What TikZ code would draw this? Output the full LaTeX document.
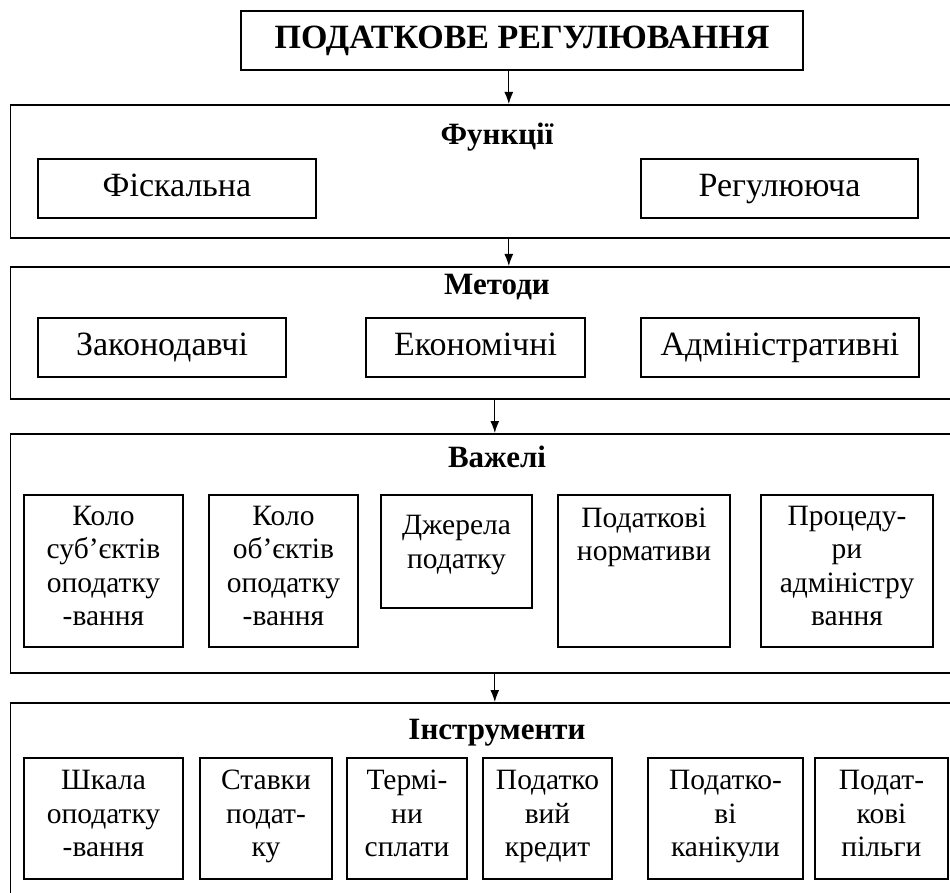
\documentclass[tikz,border=0pt]{standalone}
\usepackage{fontspec}
\setmainfont{Liberation Serif}
\usetikzlibrary{arrows.meta}
\begin{document}
\begin{tikzpicture}[x=1pt,y=-1pt,
  outer/.style={draw, line width=1.6pt, anchor=north west, inner sep=0pt},
  item/.style={draw, line width=1.6pt, align=center, inner sep=0pt,
    font=\fontsize{29.5}{33.5}\selectfont,
    execute at begin node=\strut, execute at end node=\strut},
  cell/.style={item, font=\fontsize{34}{38}\selectfont},
  head/.style={font=\bfseries\fontsize{31}{34}\selectfont, execute at begin node=\strut},
  arr/.style={line width=1.2pt, -{Latex[length=12pt,width=9pt]}}]
  \path[use as bounding box, clip] (0,0) rectangle (950,893);
  % top
  \node[draw, line width=1.6pt, minimum width=562pt, minimum height=59pt,
    font=\bfseries\fontsize{34}{38}\selectfont] (top) at (522,40.5) {ПОДАТКОВЕ РЕГУЛЮВАННЯ};
  % functions
  \node[outer, minimum width=997pt, minimum height=133pt] (fun) at (9.5,104) {};
  \node[head] (funt) at (497,138) {Функції};
  \node[cell, minimum width=278pt, minimum height=59pt] (fisk) at (177,188.5) {Фіскальна};
  \node[cell, minimum width=277pt, minimum height=59pt] (reg) at (779.5,188.5) {Регулююча};
  % methods
  \node[outer, minimum width=997pt, minimum height=132pt] (met) at (9.5,266) {};
  \node[head] (mett) at (497,288) {Методи};
  \node[cell, minimum width=248pt, minimum height=59pt] (zak) at (162,347.5) {Законодавчі};
  \node[cell, minimum width=219pt, minimum height=59pt] (ekon) at (475.5,347.5) {Економічні};
  \node[cell, minimum width=278pt, minimum height=59pt] (adm) at (780,347.5) {Адміністративні};
  % levers
  \node[outer, minimum width=969pt, minimum height=239pt] (vaz) at (9.5,433) {};
  \node[head] (vazt) at (497,461) {Важелі};
  \node[item, minimum width=159pt, minimum height=152pt] (subj) at (103.5,571)
    {Коло\\суб’єктів\\оподатку\\-вання};
  \node[item, minimum width=149pt, minimum height=152pt] (obj) at (283.5,571)
    {Коло\\об’єктів\\оподатку\\-вання};
  \node[item, minimum width=151pt, minimum height=113pt] (dzh) at (456.5,551.5)
    {Джерела\\податку\\[-24pt]};
  \node[item, minimum width=172pt, minimum height=152pt] (norm) at (644,571)
    {Податкові\\нормативи\\\\[-4pt]};
  \node[item, minimum width=172pt, minimum height=152pt] (proc) at (847,571)
    {Процеду-\\ри\\адміністру\\вання};
  % instruments
  \node[outer, minimum width=969pt, minimum height=220pt] (ins) at (9.5,702) {};
  \node[head] (inst) at (497,733) {Інструменти};
  \node[item, minimum width=159pt, minimum height=121pt] (shk) at (103.5,818.5)
    {Шкала\\оподатку\\-вання};
  \node[item, minimum width=132pt, minimum height=121pt] (stav) at (266,818.5)
    {Ставки\\подат-\\ку};
  \node[item, minimum width=120pt, minimum height=121pt] (term) at (407,818.5)
    {Термі-\\ни\\сплати};
  \node[item, minimum width=129pt, minimum height=121pt] (kred) at (547.5,818.5)
    {Податко\\вий\\кредит};
  \node[item, minimum width=155pt, minimum height=121pt] (kan) at (725.5,818.5)
    {Податко-\\ві\\канікули};
  \node[item, minimum width=133pt, minimum height=121pt] (pilg) at (881.5,818.5)
    {Подат-\\кові\\пільги};
  % arrows
  \draw[arr] (top.south -| fun.north) -- (fun.north);
  \draw[arr] (fun.south) -- (fun.south |- met.north);
  \draw[arr] (vaz.north |- met.south) -- (vaz.north);
  \draw[arr] (vaz.south) -- (vaz.south |- ins.north);
\end{tikzpicture}
\end{document}
